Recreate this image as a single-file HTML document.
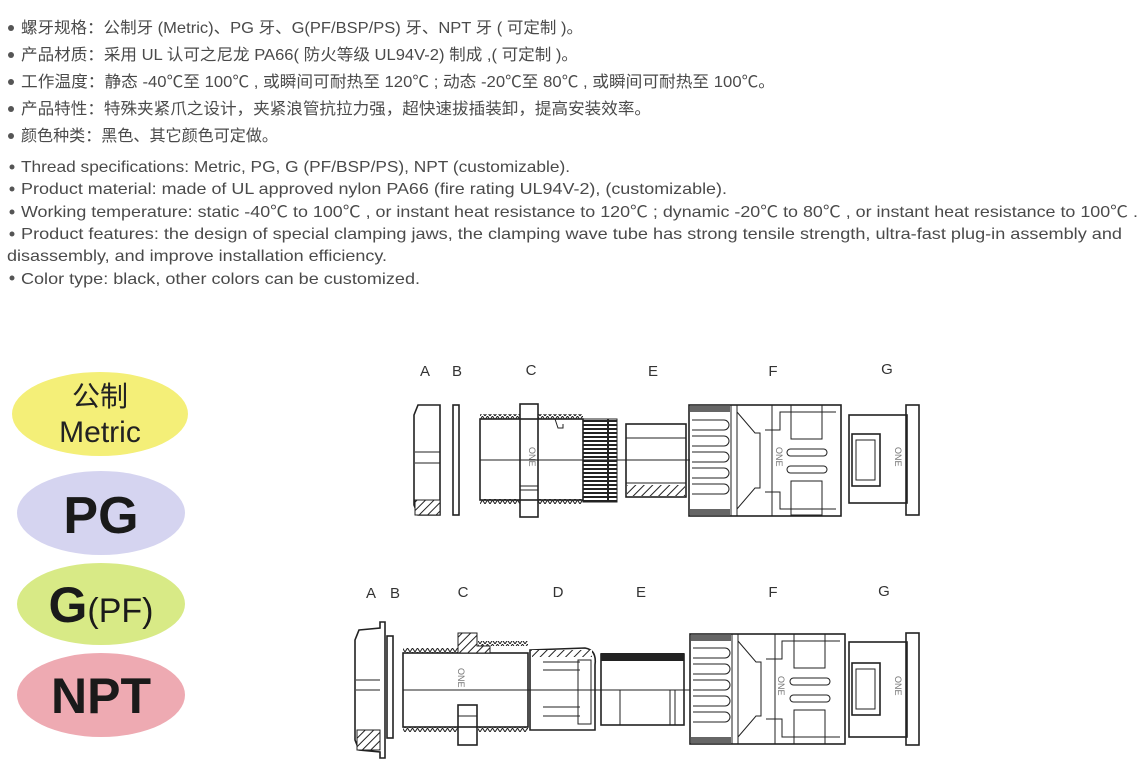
<!DOCTYPE html>
<html><head><meta charset="utf-8"><style>
html,body{margin:0;padding:0;background:#fff;}
svg{display:block;}
.t{font-family:"Liberation Sans","Noto Sans CJK SC",sans-serif;font-size:16px;fill:#4a4a4a;}
.lb{font-family:"Liberation Sans",sans-serif;font-size:15px;fill:#333;}
.d{fill:none;stroke:#222;stroke-width:1.6;}
.dt{fill:none;stroke:#222;stroke-width:1;}
</style></head><body>
<svg width="1141" height="776" viewBox="0 0 1141 776" xmlns="http://www.w3.org/2000/svg">
<defs>
<pattern id="h" width="6" height="6" patternUnits="userSpaceOnUse" patternTransform="rotate(45)"><rect width="6" height="6" fill="#fff"/><line x1="0" y1="0" x2="0" y2="6" stroke="#222" stroke-width="2"/></pattern>
<pattern id="th" width="5" height="4" patternUnits="userSpaceOnUse"><path d="M0 4 L2.5 0 L5 4" fill="none" stroke="#222" stroke-width="1"/></pattern>
<pattern id="kn" width="4" height="4" patternUnits="userSpaceOnUse"><rect width="4" height="2" fill="#222"/></pattern>
</defs>
<g class="t">
<circle cx="11" cy="28" r="3" fill="#555"/><text x="21" y="33" textLength="562" lengthAdjust="spacingAndGlyphs">螺牙规格：公制牙 (Metric)、PG 牙、G(PF/BSP/PS) 牙、NPT 牙 ( 可定制 )。</text>
<circle cx="11" cy="55" r="3" fill="#555"/><text x="21" y="60" textLength="557" lengthAdjust="spacingAndGlyphs">产品材质：采用 UL 认可之尼龙 PA66( 防火等级 UL94V-2) 制成 ,( 可定制 )。</text>
<circle cx="11" cy="82" r="3" fill="#555"/><text x="21" y="87" textLength="754" lengthAdjust="spacingAndGlyphs">工作温度：静态 -40℃至 100℃ , 或瞬间可耐热至 120℃ ; 动态 -20℃至 80℃ , 或瞬间可耐热至 100℃。</text>
<circle cx="11" cy="109" r="3" fill="#555"/><text x="21" y="114" textLength="630" lengthAdjust="spacingAndGlyphs">产品特性：特殊夹紧爪之设计，夹紧浪管抗拉力强，超快速拔插装卸，提高安装效率。</text>
<circle cx="11" cy="136" r="3" fill="#555"/><text x="21" y="141" textLength="257" lengthAdjust="spacingAndGlyphs">颜色种类：黑色、其它颜色可定做。</text>
<circle cx="12" cy="167" r="2.5" fill="#555"/><text x="21" y="172" textLength="549" lengthAdjust="spacingAndGlyphs">Thread specifications: Metric, PG, G (PF/BSP/PS), NPT (customizable).</text>
<circle cx="12" cy="189" r="2.5" fill="#555"/><text x="21" y="194" textLength="706" lengthAdjust="spacingAndGlyphs">Product material: made of UL approved nylon PA66 (fire rating UL94V-2), (customizable).</text>
<circle cx="12" cy="212" r="2.5" fill="#555"/><text x="21" y="217" textLength="1117" lengthAdjust="spacingAndGlyphs">Working temperature: static -40℃ to 100℃ , or instant heat resistance to 120℃ ; dynamic -20℃ to 80℃ , or instant heat resistance to 100℃ .</text>
<circle cx="12" cy="234" r="2.5" fill="#555"/><text x="21" y="239" textLength="1101" lengthAdjust="spacingAndGlyphs">Product features: the design of special clamping jaws, the clamping wave tube has strong tensile strength, ultra-fast plug-in assembly and</text>
<text x="7" y="261" textLength="380" lengthAdjust="spacingAndGlyphs">disassembly, and improve installation efficiency.</text>
<circle cx="12" cy="278" r="2.5" fill="#555"/><text x="21" y="284" textLength="399" lengthAdjust="spacingAndGlyphs">Color type: black, other colors can be customized.</text>
</g>
<!-- ellipses -->
<ellipse cx="100" cy="414" rx="88" ry="42" fill="#f4ef78"/>
<text x="100" y="406" text-anchor="middle" font-family="Liberation Sans,Noto Sans CJK SC,sans-serif" font-size="28" fill="#222">公制</text>
<text x="100" y="442" text-anchor="middle" font-family="Liberation Sans,sans-serif" font-size="30" fill="#222">Metric</text>
<ellipse cx="101" cy="513" rx="84" ry="42" fill="#d5d4f0"/>
<text x="101" y="533" text-anchor="middle" font-family="Liberation Sans,sans-serif" font-size="52" font-weight="bold" fill="#1a1a1a">PG</text>
<ellipse cx="101" cy="604" rx="84" ry="41" fill="#d8ea86"/>
<text x="101" y="622" text-anchor="middle" font-family="Liberation Sans,sans-serif" fill="#1a1a1a"><tspan font-size="50" font-weight="bold">G</tspan><tspan font-size="34">(PF)</tspan></text>
<ellipse cx="101" cy="695" rx="84" ry="42" fill="#eeaab2"/>
<text x="101" y="713" text-anchor="middle" font-family="Liberation Sans,sans-serif" font-size="50" font-weight="bold" fill="#1a1a1a">NPT</text>

<!-- top row labels -->
<g class="lb" text-anchor="middle">
<text x="425" y="376">A</text><text x="457" y="376">B</text><text x="531" y="375">C</text><text x="653" y="376">E</text><text x="773" y="376">F</text><text x="887" y="374">G</text>
<text x="371" y="598">A</text><text x="395" y="598">B</text><text x="463" y="597">C</text><text x="558" y="597">D</text><text x="641" y="597">E</text><text x="773" y="597">F</text><text x="884" y="596">G</text>
</g>
<!-- top row drawing -->
<g>
<path class="d" d="M418 405 L440 405 L440 515 L418 515 L414 505 L414 415 Z"/>
<line class="dt" x1="415" y1="452" x2="440" y2="452"/><line class="dt" x1="415" y1="463" x2="440" y2="463"/>
<rect x="415" y="500" width="25" height="15" fill="url(#h)" stroke="#222"/>
<rect class="d" x="453" y="405" width="6" height="110"/>
<rect x="480" y="414" width="40" height="5" fill="url(#th)"/><rect x="538" y="414" width="45" height="5" fill="url(#th)"/>
<rect x="480" y="499" width="40" height="5" fill="url(#th)"/><rect x="538" y="499" width="45" height="5" fill="url(#th)"/>
<rect class="d" x="480" y="419" width="103" height="81"/>
<rect class="d" x="520" y="404" width="18" height="113" fill="#fff"/>
<line class="dt" x1="520" y1="486" x2="538" y2="486"/><line class="dt" x1="520" y1="490" x2="538" y2="490"/>
<text x="529" y="447" transform="rotate(90 529 447)" font-family="Liberation Sans" font-size="9" fill="#777">ONE</text>
<path class="dt" d="M555 419 L558 428 L563 428 L563 424"/>
<rect x="583" y="419" width="34" height="83" fill="url(#kn)" stroke="#222"/>
<line x1="608" y1="419" x2="608" y2="502" stroke="#222" stroke-width="2"/>
<line class="dt" x1="480" y1="460" x2="690" y2="460"/>
<rect class="d" x="626" y="424" width="60" height="73"/>
<line class="dt" x1="626" y1="438" x2="686" y2="438"/><line class="dt" x1="626" y1="483" x2="686" y2="483"/>
<rect x="627" y="485" width="58" height="11" fill="url(#h)"/>
<rect class="d" x="689" y="405" width="152" height="111"/>
<rect x="690" y="406" width="40" height="6" fill="#666"/><rect x="690" y="509" width="40" height="6" fill="#666"/>
<line class="dt" x1="731" y1="405" x2="731" y2="516"/><line class="dt" x1="737" y1="405" x2="737" y2="516"/><line class="dt" x1="772" y1="405" x2="772" y2="516"/>
<g class="dt"><path d="M692 420 h32 a5 5 0 0 1 0 10 h-32"/><path d="M692 436 h32 a5 5 0 0 1 0 10 h-32"/><path d="M692 452 h32 a5 5 0 0 1 0 10 h-32"/><path d="M692 468 h32 a5 5 0 0 1 0 10 h-32"/><path d="M692 484 h32 a5 5 0 0 1 0 10 h-32"/></g>
<path class="dt" d="M737 412 L755 433 L760 433 L760 488 L755 488 L737 509"/>
<path class="dt" d="M765 430 L780 430 L780 412 L836 412 M765 492 L780 492 L780 509 L836 509"/>
<rect class="dt" x="791" y="405" width="31" height="34"/><rect class="dt" x="791" y="481" width="31" height="34"/>
<rect class="dt" x="787" y="449" width="40" height="7" rx="3.5"/><rect class="dt" x="787" y="466" width="40" height="7" rx="3.5"/>
<text x="776" y="447" transform="rotate(90 776 447)" font-family="Liberation Sans" font-size="9" fill="#777">ONE</text>
<rect class="d" x="849" y="415" width="58" height="88"/>
<rect class="d" x="906" y="405" width="13" height="110"/>
<rect class="d" x="852" y="434" width="28" height="52"/><rect class="dt" x="856" y="440" width="19" height="40"/>
<text x="895" y="447" transform="rotate(90 895 447)" font-family="Liberation Sans" font-size="9" fill="#777">ONE</text>
</g>
<!-- bottom row drawing -->
<g>
<path class="d" d="M359 630 L380 628 L380 622 L385 622 L385 758 L380 758 L380 752 L359 750 L355 740 L355 640 Z"/>
<line class="dt" x1="356" y1="680" x2="380" y2="680"/><line class="dt" x1="356" y1="690" x2="380" y2="690"/>
<rect x="357" y="730" width="23" height="20" fill="url(#h)" stroke="#222"/>
<rect class="d" x="387" y="636" width="6" height="102"/>
<rect x="403" y="648" width="55" height="5" fill="url(#th)"/><rect x="478" y="641" width="50" height="5" fill="url(#th)"/>
<rect x="403" y="727" width="55" height="5" fill="url(#th)"/><rect x="478" y="727" width="50" height="5" fill="url(#th)"/>
<rect class="d" x="403" y="653" width="125" height="74"/>
<path d="M458 633 L477 633 L477 646 L490 646 L490 653 L458 653 Z" fill="url(#h)" stroke="#222"/>
<rect class="d" x="458" y="705" width="19" height="40" fill="#fff"/>
<line class="dt" x1="458" y1="716" x2="477" y2="716"/>
<text x="458" y="668" transform="rotate(90 458 668)" font-family="Liberation Sans" font-size="9" fill="#777">ONE</text>
<line class="dt" x1="403" y1="690" x2="690" y2="690"/>
<path class="d" d="M530 650 L585 648 Q597 650 595 665 L595 730 L530 730 Z"/>
<rect x="532" y="650" width="60" height="7" fill="url(#h)"/>
<g class="dt"><line x1="543" y1="662" x2="580" y2="662"/><line x1="543" y1="670" x2="580" y2="670"/><line x1="543" y1="707" x2="580" y2="707"/><line x1="543" y1="716" x2="580" y2="716"/><rect x="578" y="660" width="13" height="64"/></g>
<rect class="d" x="601" y="654" width="83" height="71"/>
<rect x="601" y="653" width="83" height="8" fill="#222"/>
<g class="dt"><line x1="620" y1="690" x2="620" y2="725"/><line x1="670" y1="690" x2="670" y2="725"/><line x1="675" y1="690" x2="675" y2="725"/></g>
<rect class="d" x="690" y="634" width="155" height="110"/>
<rect x="691" y="635" width="40" height="6" fill="#666"/><rect x="691" y="737" width="40" height="6" fill="#666"/>
<line class="dt" x1="732" y1="634" x2="732" y2="744"/><line class="dt" x1="738" y1="634" x2="738" y2="744"/><line class="dt" x1="775" y1="634" x2="775" y2="744"/>
<g class="dt"><path d="M693 648 h32 a5 5 0 0 1 0 10 h-32"/><path d="M693 664 h32 a5 5 0 0 1 0 10 h-32"/><path d="M693 680 h32 a5 5 0 0 1 0 10 h-32"/><path d="M693 696 h32 a5 5 0 0 1 0 10 h-32"/><path d="M693 712 h32 a5 5 0 0 1 0 10 h-32"/></g>
<path class="dt" d="M738 641 L756 662 L761 662 L761 716 L756 716 L738 737"/>
<path class="dt" d="M766 659 L782 659 L782 641 L840 641 M766 719 L782 719 L782 737 L840 737"/>
<rect class="dt" x="794" y="634" width="31" height="34"/><rect class="dt" x="794" y="710" width="31" height="34"/>
<rect class="dt" x="790" y="678" width="40" height="7" rx="3.5"/><rect class="dt" x="790" y="695" width="40" height="7" rx="3.5"/>
<text x="778" y="676" transform="rotate(90 778 676)" font-family="Liberation Sans" font-size="9" fill="#777">ONE</text>
<rect class="d" x="849" y="642" width="58" height="95"/>
<rect class="d" x="906" y="633" width="13" height="112"/>
<rect class="d" x="852" y="663" width="28" height="52"/><rect class="dt" x="856" y="669" width="19" height="40"/>
<text x="895" y="676" transform="rotate(90 895 676)" font-family="Liberation Sans" font-size="9" fill="#777">ONE</text>
</g>
</svg>
</body></html>
